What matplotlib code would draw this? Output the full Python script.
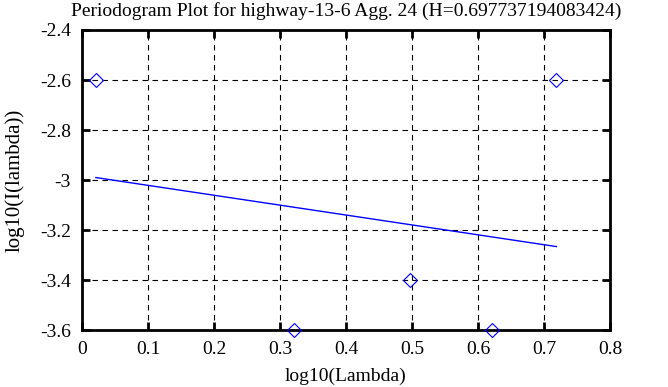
import matplotlib.pyplot as plt
import numpy as np

plt.rcParams['axes.unicode_minus'] = False
plt.rcParams['font.family'] = ['Liberation Serif', 'DejaVu Serif']

# data
log_lambda = [0.021, 0.322, 0.497, 0.622, 0.719]
log_i = [-2.6, -3.6, -3.4, -3.6, -2.6]
fit_x = [0.021, 0.719]
fit_y = [-2.99, -3.266]
xticks = [0, 0.1, 0.2, 0.3, 0.4, 0.5, 0.6, 0.7, 0.8]
yticks = [-3.6, -3.4, -3.2, -3, -2.8, -2.6, -2.4]
ylabels = ['-3.6', '-3.4', '-3.2', '-3', '-2.8', '-2.6', '-2.4']

fig = plt.figure(figsize=(6.68, 3.87), dpi=100)
ax = fig.add_axes([0.1228, 0.147, 0.7902, 0.7755])

ax.plot(fit_x, fit_y, color='blue', lw=1.0, zorder=3)
ax.plot(log_lambda, log_i, 'D', ms=7, mfc='none', mec='blue', mew=0.8,
        clip_on=False, zorder=4)

ax.set_xlim(0, 0.8)
ax.set_ylim(-3.6, -2.4)
ax.set_xticks(xticks)
ax.set_xticklabels([('%g' % t) for t in xticks])
ax.set_yticks(yticks)
ax.set_yticklabels(ylabels)
ax.tick_params(direction='in', length=6, width=2, top=True, right=True,
               labelsize=14, pad=8)
for s in ax.spines.values():
    s.set_linewidth(2)
ax.grid(True, color='black', linestyle=(0, (5, 4)), linewidth=0.8)

ax.set_xlabel('log10(Lambda)', fontsize=14, labelpad=7)
ax.set_ylabel('log10(I(lambda))', fontsize=15, labelpad=11)
ax.set_title('Periodogram Plot for highway-13-6 Agg. 24 (H=0.697737194083424)',
             fontsize=14, pad=10)

plt.savefig('out.png', dpi=100)
